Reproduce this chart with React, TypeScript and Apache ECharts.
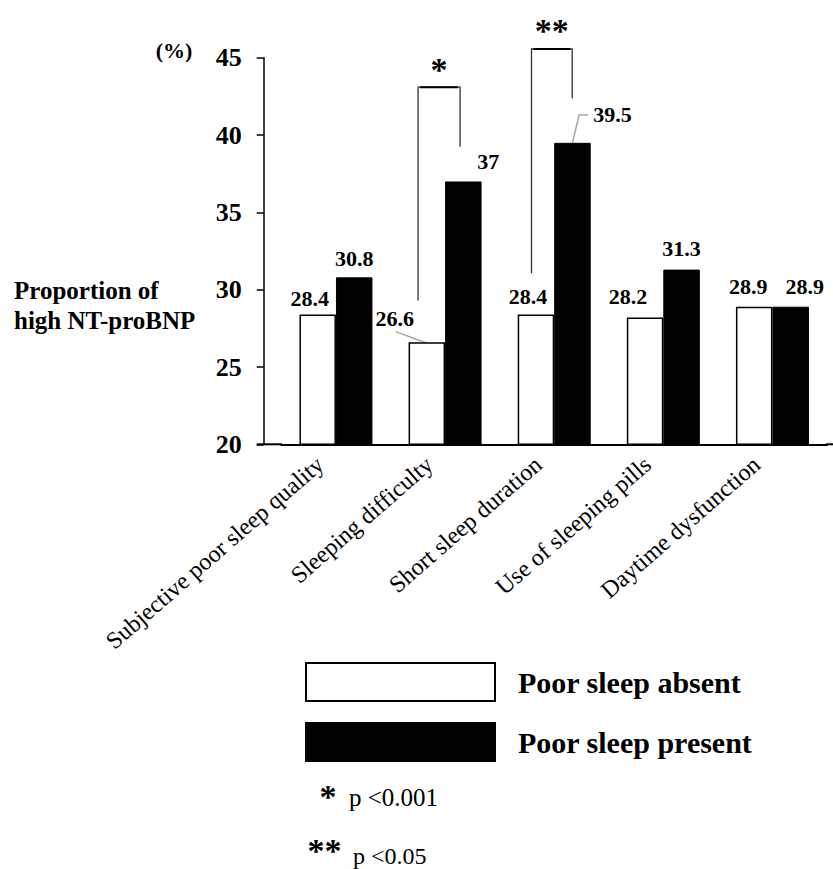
import React, { useEffect, useRef } from "react";
import * as echarts from "echarts";

// ---------- data ----------
const categories = [
  "Subjective poor sleep quality",
  "Sleeping difficulty",
  "Short sleep duration",
  "Use of sleeping pills",
  "Daytime dysfunction",
];
const seriesNames = ["Poor sleep absent", "Poor sleep present"];
const absentValues = [28.4, 26.6, 28.4, 28.2, 28.9];
const presentValues = [30.8, 37, 39.5, 31.3, 28.9];
const yMin = 20;
const yMax = 45;
const yInterval = 5;
const yAxisTitle = "Proportion of\nhigh NT-proBNP";
const yUnit = "(%)";
const pValueMarks = ["*", "**"];
const pValueTexts = ["p <0.001", "p <0.05"];

// ---------- styling / layout ----------
const FONT = "'Liberation Serif', 'Times New Roman', Times, serif";
const BAR_W = 36.5;
const absentLabelOffsets = [[-8, 0], [-32, -8], [-8, -2], [-17, -5], [-6, -4]];
const presentLabelOffsets = [[0, -3], [25, -4], [40, -12], [0, -5], [14, -4]];
// significance brackets: category index, x offsets from category centre (px), y levels (axis units)
const brackets = [
  { cat: 1, markIdx: 0, dxLeft: -27, dxRight: 15, top: 43.1, leftBottom: 29.3, rightBottom: 39.25 },
  { cat: 2, markIdx: 1, dxLeft: -22.7, dxRight: 18, top: 45.57, leftBottom: 31.07, rightBottom: 42.38 },
];

export default function App() {
  const ref = useRef<HTMLDivElement>(null);

  useEffect(() => {
    if (!ref.current) return;
    const chart = echarts.init(ref.current, null, { renderer: "svg" });

    const mkData = (vals: number[], offs: number[][]) =>
      vals.map((v, i) => ({ value: v, label: { offset: offs[i] } }));

    chart.setOption({
      animation: false,
      backgroundColor: "#fff",
      textStyle: { fontFamily: FONT },
      grid: { left: 281.4, top: 57.8, width: 545.6, height: 386.5 },
      legend: {
        orient: "vertical",
        left: 300,
        top: 657,
        itemWidth: 189,
        itemHeight: 38,
        itemGap: 20,
        icon: "rect",
        selectedMode: false,
        data: seriesNames,
        textStyle: {
          fontFamily: FONT,
          fontSize: 30,
          fontWeight: "bold",
          color: "#000",
          padding: [0, 0, 0, 18],
        },
      },
      xAxis: {
        type: "category",
        data: categories,
        axisLine: { lineStyle: { color: "#000", width: 2 } },
        axisTick: { show: false },
        axisLabel: {
          rotate: 41,
          interval: 0,
          margin: 3,
          formatter: (v: string) => `{t|${v}}`,
          rich: {
            t: {
              fontFamily: FONT,
              fontSize: 24,
              color: "#000",
              padding: [0, 21, 0, 0],
            },
          },
          fontFamily: FONT,
          fontSize: 24,
          color: "#000",
        },
      },
      yAxis: {
        type: "value",
        min: yMin,
        max: yMax,
        interval: yInterval,
        offset: 17.7,
        axisLine: { show: true, lineStyle: { color: "#000", width: 1.5 } },
        axisTick: { show: true, length: 7, lineStyle: { color: "#000", width: 1.5 } },
        splitLine: { show: false },
        axisLabel: {
          margin: 22,
          fontFamily: FONT,
          fontSize: 26,
          fontWeight: "bold",
          color: "#000",
        },
      },
      series: [
        {
          name: seriesNames[0],
          type: "bar",
          data: mkData(absentValues, absentLabelOffsets),
          barWidth: BAR_W,
          barGap: "0%",
          itemStyle: { color: "#fff", borderColor: "#000", borderWidth: 1.5 },
          label: {
            show: true,
            position: "top",
            fontFamily: FONT,
            fontSize: 22,
            fontWeight: "bold",
            color: "#000",
          },
        },
        {
          name: seriesNames[1],
          type: "bar",
          data: mkData(presentValues, presentLabelOffsets),
          barWidth: BAR_W,
          barGap: "0%",
          itemStyle: { color: "#000", borderColor: "#000", borderWidth: 1 },
          label: {
            show: true,
            position: "top",
            fontFamily: FONT,
            fontSize: 22,
            fontWeight: "bold",
            color: "#000",
          },
        },
      ],
    });

    // ---- derived decorations ----
    const p20 = chart.convertToPixel({ gridIndex: 0 }, [0, yMin]) as number[];
    const p45 = chart.convertToPixel({ gridIndex: 0 }, [0, yMax]) as number[];
    const yPix = (v: number) => p20[1] + ((v - yMin) * (p45[1] - p20[1])) / (yMax - yMin);
    const catX = (i: number) => (chart.convertToPixel({ gridIndex: 0 }, [i, yMin]) as number[])[0];
    const gridRight = catX(categories.length - 1) + (catX(1) - catX(0)) / 2;
    const axisY = p20[1];
    const yAxisX = 281.4 - 17.7;

    const graphics: any[] = [];
    // x axis line extensions
    graphics.push({
      type: "line",
      shape: { x1: yAxisX - 7, y1: axisY, x2: 282, y2: axisY },
      style: { stroke: "#000", lineWidth: 2 },
    });
    graphics.push({
      type: "line",
      shape: { x1: gridRight - 1, y1: axisY, x2: 833, y2: axisY },
      style: { stroke: "#000", lineWidth: 2 },
    });
    // unit
    graphics.push({
      type: "text",
      x: 174,
      y: 50,
      style: {
        text: yUnit,
        font: `bold 22px ${FONT}`,
        fill: "#000",
        align: "center",
        verticalAlign: "middle",
      },
    });
    // y axis title
    graphics.push({
      type: "text",
      x: 14,
      y: 275,
      style: {
        text: yAxisTitle,
        font: `bold 25px ${FONT}`,
        lineHeight: 30,
        fill: "#000",
        align: "left",
        verticalAlign: "top",
      },
    });
    // significance brackets
    brackets.forEach((b) => {
      const cx = catX(b.cat);
      const xl = cx + b.dxLeft;
      const xr = cx + b.dxRight;
      const yt = yPix(b.top);
      graphics.push({
        type: "polyline",
        shape: {
          points: [
            [xl, yPix(b.leftBottom)],
            [xl, yt],
            [xr, yt],
            [xr, yPix(b.rightBottom)],
          ],
        },
        style: { stroke: "#333", lineWidth: 1.3, fill: null },
      });
      graphics.push({
        type: "line",
        shape: { x1: xl + 2, y1: yt, x2: xr - 2, y2: yt },
        style: { stroke: "#000", lineWidth: 2 },
      });
      graphics.push({
        type: "text",
        x: (xl + xr) / 2,
        y: yt - 22 + 4,
        style: {
          text: pValueMarks[b.markIdx],
          font: `bold 34px ${FONT}`,
          fill: "#000",
          align: "center",
          verticalAlign: "middle",
        },
      });
    });
    // leader lines
    {
      const wc = catX(1) - BAR_W / 2;
      const yt = yPix(absentValues[1]);
      graphics.push({
        type: "line",
        shape: { x1: wc - 31, y1: yt - 10.6, x2: wc, y2: yt + 1 },
        style: { stroke: "#a6a6a6", lineWidth: 1.5 },
      });
    }
    {
      const bc = catX(2) + BAR_W / 2;
      const yt = yPix(presentValues[2]);
      graphics.push({
        type: "polyline",
        shape: {
          points: [
            [bc, yt],
            [bc + 6.6, yt - 27.8],
            [bc + 15.6, yt - 27.8],
          ],
        },
        style: { stroke: "#a6a6a6", lineWidth: 1.5, fill: null },
      });
    }
    // p-value notes
    graphics.push({
      type: "text",
      x: 328,
      y: 796,
      style: { text: pValueMarks[0], font: `bold 34px ${FONT}`, fill: "#000", align: "center", verticalAlign: "middle" },
    });
    graphics.push({
      type: "text",
      x: 349,
      y: 797,
      style: { text: pValueTexts[0], font: `25px ${FONT}`, fill: "#000", align: "left", verticalAlign: "middle" },
    });
    graphics.push({
      type: "text",
      x: 324.5,
      y: 850,
      style: { text: pValueMarks[1], font: `bold 34px ${FONT}`, fill: "#000", align: "center", verticalAlign: "middle" },
    });
    graphics.push({
      type: "text",
      x: 353,
      y: 856,
      style: { text: pValueTexts[1], font: `24px ${FONT}`, fill: "#000", align: "left", verticalAlign: "middle" },
    });

    chart.setOption({ graphic: graphics });

    return () => chart.dispose();
  }, []);

  return (
    <div
      ref={ref}
      style={{ position: "absolute", left: 0, top: 0, width: 833, height: 869 }}
    />
  );
}
